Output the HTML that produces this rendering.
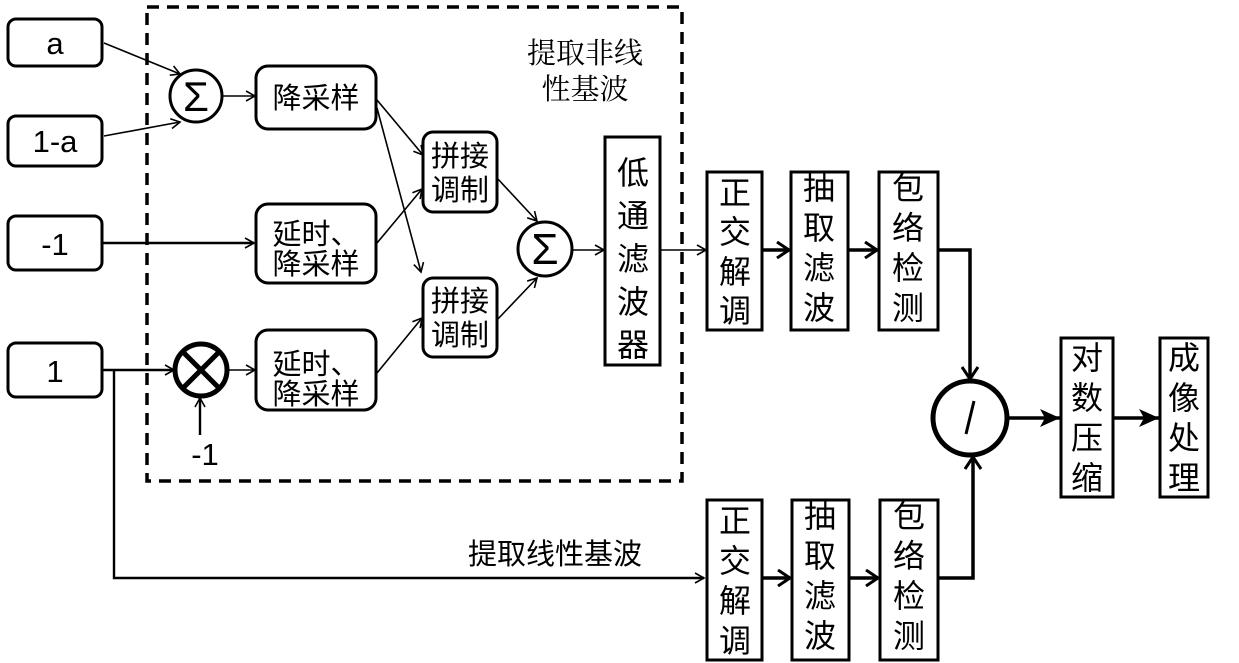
<!DOCTYPE html>
<html><head><meta charset="utf-8"><style>
html,body{margin:0;padding:0;background:#fff;}
svg{display:block;}
text{font-family:"Liberation Sans","Noto Sans CJK SC",sans-serif;fill:#000;}
.cj{font-family:"Noto Serif CJK SC","Noto Sans CJK SC","WenQuanYi Zen Hei",serif;}
</style></head><body>
<svg width="1239" height="663" viewBox="0 0 1239 663" xmlns="http://www.w3.org/2000/svg">
<defs>
<marker id="ar" markerWidth="12" markerHeight="12" refX="10" refY="6" orient="auto" markerUnits="userSpaceOnUse">
<path d="M1,1 L10,6 L1,11" fill="none" stroke="#000" stroke-width="1.6"/></marker>
<marker id="af" markerWidth="22" markerHeight="18" refX="20" refY="9" orient="auto" markerUnits="userSpaceOnUse">
<path d="M0,0 L20,9 L0,18 L5,9 Z" fill="#000"/></marker>
<marker id="ab" markerWidth="18" markerHeight="18" refX="14" refY="9" orient="auto" markerUnits="userSpaceOnUse">
<path d="M2,1 L14,9 L2,17" fill="none" stroke="#000" stroke-width="3"/></marker>
</defs>
<rect x="147" y="7" width="535" height="474" fill="none" stroke="#000" stroke-width="3.5" stroke-dasharray="12,8"/>
<text class="cj" x="585" y="63" font-size="29" text-anchor="middle">提取非线</text>
<text class="cj" x="585" y="99" font-size="29" text-anchor="middle">性基波</text>

<g fill="none" stroke="#000" stroke-width="3">
<rect x="8" y="19" width="94" height="47" rx="8"/>
<rect x="8" y="116" width="94" height="50" rx="8"/>
<rect x="8" y="216" width="94" height="54" rx="8"/>
<rect x="8" y="343" width="94" height="54" rx="8"/>
<rect x="256" y="66" width="120" height="63" rx="12"/>
<rect x="256" y="204" width="120" height="79" rx="12"/>
<rect x="256" y="330" width="120" height="80" rx="12"/>
<rect x="423" y="132" width="74" height="80" rx="10"/>
<rect x="423" y="278" width="74" height="79" rx="10"/>
<rect x="605" y="137" width="55" height="228"/>
<rect x="707" y="172" width="55" height="158"/>
<rect x="791" y="172" width="57" height="158"/>
<rect x="879" y="172" width="59" height="158"/>
<rect x="707" y="500" width="55" height="160"/>
<rect x="792" y="500" width="57" height="160"/>
<rect x="880" y="500" width="58" height="160"/>
<rect x="1061" y="338" width="52" height="159"/>
<rect x="1160" y="338" width="48" height="159"/>
<circle cx="196" cy="96" r="26"/>
<circle cx="545" cy="249" r="27"/>
<circle cx="201" cy="370" r="26" stroke-width="5"/>
<circle cx="970" cy="418" r="37" stroke-width="5"/>
</g>
<g stroke="#000" stroke-width="5"><line x1="183" y1="352" x2="219" y2="388"/><line x1="219" y1="352" x2="183" y2="388"/>
<line x1="974" y1="401" x2="966" y2="434" stroke-width="3"/></g>
<text x="196" y="111" font-size="42" text-anchor="middle" font-family="DejaVu Serif">Σ</text>
<text x="545" y="264" font-size="44" text-anchor="middle" font-family="DejaVu Serif">Σ</text>

<g font-size="31" text-anchor="middle">
<text x="55" y="54">a</text><text x="55" y="152">1-a</text><text x="55" y="255">-1</text><text x="55" y="382">1</text>
<text x="205" y="465">-1</text>
</g>
<g class="cj" font-size="29" text-anchor="middle">
<text x="316" y="108">降采样</text>
<text x="316" y="244">延时、</text><text x="316" y="274">降采样</text>
<text x="316" y="374">延时、</text><text x="316" y="404">降采样</text>
<text x="460" y="166">拼接</text><text x="460" y="200">调制</text>
<text x="460" y="311">拼接</text><text x="460" y="345">调制</text>
<text x="555" y="564">提取线性基波</text>
</g>
<g class="cj" font-size="32" text-anchor="middle">
<text x="633" y="184">低</text><text x="633" y="227">通</text><text x="633" y="270">滤</text><text x="633" y="313">波</text><text x="633" y="356">器</text>
<text x="735" y="204">正</text><text x="735" y="243">交</text><text x="735" y="283">解</text><text x="735" y="322">调</text>
<text x="819" y="199">抽</text><text x="819" y="239">取</text><text x="819" y="279">滤</text><text x="819" y="319">波</text>
<text x="908" y="199">包</text><text x="908" y="239">络</text><text x="908" y="279">检</text><text x="908" y="319">测</text>
<text x="735" y="532">正</text><text x="735" y="572">交</text><text x="735" y="612">解</text><text x="735" y="652">调</text>
<text x="820" y="527">抽</text><text x="820" y="567">取</text><text x="820" y="607">滤</text><text x="820" y="647">波</text>
<text x="909" y="527">包</text><text x="909" y="567">络</text><text x="909" y="607">检</text><text x="909" y="647">测</text>
<text x="1087" y="369">对</text><text x="1087" y="409">数</text><text x="1087" y="449">压</text><text x="1087" y="489">缩</text>
<text x="1184" y="369">成</text><text x="1184" y="409">像</text><text x="1184" y="449">处</text><text x="1184" y="489">理</text>
</g>

<g stroke="#000" stroke-width="1.6" fill="none" marker-end="url(#ar)">
<line x1="104" y1="43" x2="180" y2="74"/>
<line x1="104" y1="136" x2="180" y2="122"/>
<line x1="222" y1="96" x2="255" y2="96"/>
<line x1="377" y1="100" x2="423" y2="155"/>
<line x1="377" y1="108" x2="421" y2="272"/>
<line x1="377" y1="243" x2="422" y2="189"/>
<line x1="377" y1="373" x2="422" y2="318"/>
<line x1="497" y1="178" x2="537" y2="221"/>
<line x1="497" y1="320" x2="537" y2="278"/>
<line x1="572" y1="250" x2="604" y2="250"/>
<line x1="660" y1="250" x2="706" y2="250"/>
<line x1="228" y1="370" x2="255" y2="370"/>
</g>
<g stroke="#000" stroke-width="2.4" fill="none">
<line x1="102" y1="243" x2="254" y2="243" marker-end="url(#ar)"/>
<line x1="102" y1="370" x2="174" y2="370" marker-end="url(#ar)"/>
<line x1="200" y1="435" x2="200" y2="398" marker-end="url(#ar)"/>
<polyline points="114,370 114,578 704,578" marker-end="url(#ar)"/>
</g>
<g stroke="#000" stroke-width="3.5" fill="none">
<line x1="762" y1="250" x2="789" y2="250" marker-end="url(#ab)"/>
<line x1="848" y1="250" x2="877" y2="250" marker-end="url(#ab)"/>
<line x1="762" y1="578" x2="790" y2="578" marker-end="url(#ab)"/>
<line x1="849" y1="578" x2="878" y2="578" marker-end="url(#ab)"/>
<polyline points="938,250 970,250 970,379" marker-end="url(#ab)"/>
<polyline points="938,578 973,578 973,457" marker-end="url(#ab)"/>
<line x1="1007" y1="418" x2="1060" y2="418" marker-end="url(#af)"/>
<line x1="1113" y1="418" x2="1159" y2="418" marker-end="url(#af)"/>
</g>
</svg>
</body></html>
